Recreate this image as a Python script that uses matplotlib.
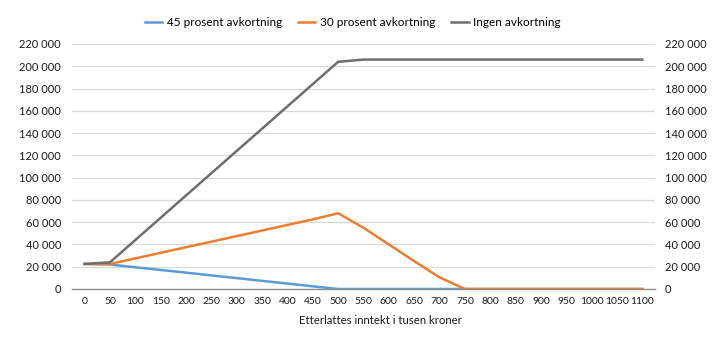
import matplotlib
matplotlib.use("Agg")
import matplotlib.pyplot as plt
from matplotlib.ticker import FuncFormatter

plt.rcParams['font.family'] = ['Lato', 'DejaVu Sans']

categories = [str(v) for v in range(0, 1101, 50)]

avk45 = [22500, 22000, 19500, 17100, 14700, 12200, 9800, 7300, 4900, 2400, 0,
         0, 0, 0, 0, 0, 0, 0, 0, 0, 0, 0, 0]
avk30 = [22500, 22500, 27500, 32500, 37500, 42500, 47500, 52500, 57500, 62500, 68000,
         55000, 40000, 25000, 10500, 0, 0, 0, 0, 0, 0, 0, 0]
ingen = [22500, 24000, 44000, 64000, 84000, 104000, 124000, 144000, 164000, 184000, 204000,
         206000, 206000, 206000, 206000, 206000, 206000, 206000, 206000, 206000, 206000, 206000, 206000]

series_names = ["45 prosent avkortning", "30 prosent avkortning", "Ingen avkortning"]
colors = ["#5B9BD5", "#ED7D31", "#6E6E6E"]

fig = plt.figure(figsize=(7.2, 3.41), dpi=100)
ax = fig.add_axes([0.1, 0.1525, 0.8097, 0.7185])

x = list(range(len(categories)))
for vals, name, c in zip([avk45, avk30, ingen], series_names, colors):
    ax.plot(x, vals, color=c, lw=1.8, label=name, solid_joinstyle='miter')

ax.set_xlim(-0.5, len(categories) - 0.5)
ax.set_ylim(0, 220000)
yticks = list(range(0, 220001, 20000))
ax.set_yticks(yticks)
fmt = FuncFormatter(lambda v, p: f"{int(v):,}".replace(",", " "))
ax.yaxis.set_major_formatter(fmt)
ax.set_xticks(x)
ax.set_xticklabels(categories)
ax.grid(axis='y', color='#d9d9d9', lw=0.9)
ax.set_axisbelow(True)
for s in ['top', 'right', 'left']:
    ax.spines[s].set_visible(False)
ax.spines['bottom'].set_color('#8c8c8c')
ax.spines['bottom'].set_linewidth(1.0)
ax.tick_params(axis='both', length=0, colors='#1a1a1a')
ax.tick_params(axis='x', pad=6, labelsize=7.5)
ax.tick_params(axis='y', pad=8, labelsize=8)

ax2 = ax.twinx()
ax2.set_ylim(ax.get_ylim())
ax2.set_yticks(yticks)
ax2.yaxis.set_major_formatter(fmt)
for s in ['top', 'right', 'left', 'bottom']:
    ax2.spines[s].set_visible(False)
ax2.tick_params(axis='y', length=0, labelsize=8, colors='#1a1a1a', pad=7)

fig.text(380 / 720, 1 - 321 / 341, "Etterlattes inntekt i tusen kroner",
         fontsize=8.2, color='#1a1a1a', ha='center', va='center')

fig.legend(*ax.get_legend_handles_labels(), loc='center', bbox_to_anchor=(0.49, 0.935),
           ncol=3, frameon=False, fontsize=8.5, handlelength=1.5, columnspacing=1.3,
           handletextpad=0.4)

fig.savefig("out.png", dpi=100)
